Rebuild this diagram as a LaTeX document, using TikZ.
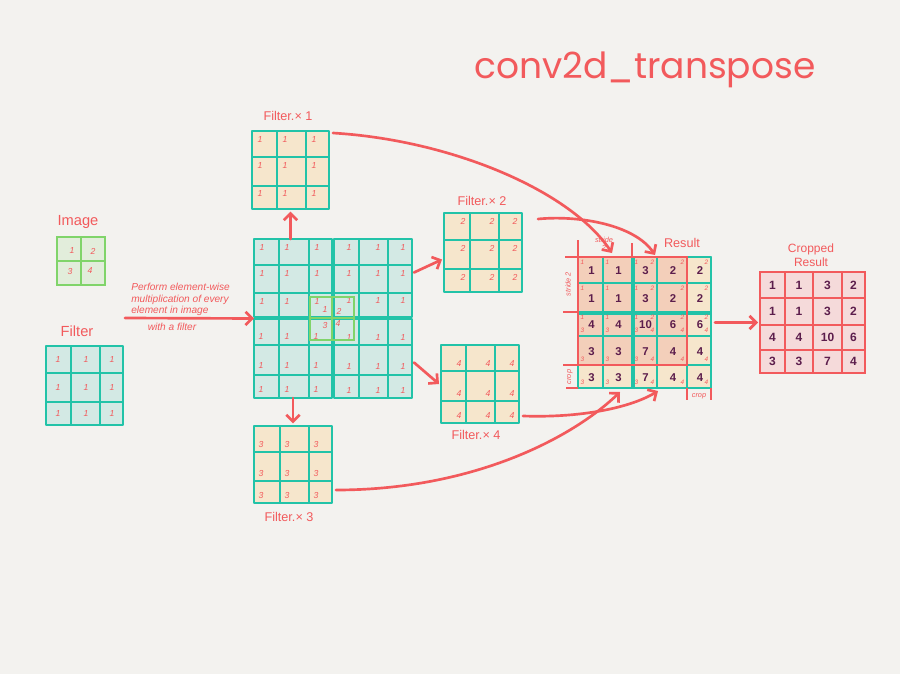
\documentclass[tikz,border=0pt]{standalone}
\usepackage{fontspec}
\setmainfont{Liberation Sans}
\newfontfamily\titlefont{Poppins}
\usetikzlibrary{fit,calc,arrows.meta}
\definecolor{bgc}{HTML}{F3F2EF}
\definecolor{redc}{HTML}{F25A5C}
\definecolor{tealc}{HTML}{22C3A8}
\definecolor{tealfill}{HTML}{D3E9E4}
\definecolor{beige}{HTML}{F6E6CC}
\definecolor{salmon}{HTML}{F3CFBA}
\definecolor{pinkc}{HTML}{F5DADA}
\definecolor{greenc}{HTML}{80D46A}
\definecolor{greenfill}{HTML}{E2EDDB}
\definecolor{purp}{HTML}{5C1D4C}
\tikzset{
 gline/.style={draw=tealc, line width=1.9pt, line join=round},
 sn/.style={text=redc, font=\fontsize{6.5}{7}\selectfont\itshape, inner sep=0},
 rsn/.style={text=redc, font=\fontsize{4.8}{5}\selectfont\itshape, inner sep=0},
 bn/.style={text=purp, font=\fontsize{9}{10}\selectfont\bfseries, inner sep=0},
 lbl/.style={text=redc, font=\fontsize{9.5}{10.5}\selectfont, inner sep=0},
 biglbl/.style={text=redc, font=\fontsize{11}{12}\selectfont, inner sep=0},
 tiny/.style={text=redc, font=\fontsize{5.5}{6}\selectfont\itshape, inner sep=0},
 arr/.style={draw=redc, line width=2pt, line cap=round, -{Straight Barb[length=5pt,width=10pt,line width=2pt]}},
 redln/.style={draw=redc, line width=1.3pt},
 box/.style={inner sep=0, outer sep=0},
}
\newcommand\gridthree[9]{%
 \fill[#9] (#1,#5) rectangle (#4,#8);
 \draw[gline] (#2,#5) -- (#2,#8) (#3,#5) -- (#3,#8) (#1,#6) -- (#4,#6) (#1,#7) -- (#4,#7) (#1,#5) rectangle (#4,#8);
}
\begin{document}
\begin{tikzpicture}[x=0.75pt,y=-0.75pt]
\useasboundingbox (0,0) rectangle (900,674);
\fill[bgc] (0,0) rectangle (900,674);

% title
\node[text=redc, font=\titlefont\fontsize{27}{30}\selectfont, inner sep=0] (title) at (645,70) {conv2d\_transpose};

% Image
\node[biglbl] (imglbl) at (78,222) {Image};
\fill[greenfill] (57,237) rectangle (105,285);
\draw[draw=greenc, line width=1.6pt] (57,237) rectangle (105,285) (81,237)--(81,285) (57,261)--(105,261);
\node[box, fit={(57,237)(105,285)}] (img) {};
\node[sn] (i1) at (72,251) {1};
\node[sn] (i2) at (93,251) {2};
\node[sn] (i3) at (70,272) {3};
\node[sn] (i4) at (90,271) {4};

% Filter
\node[biglbl] (filtlbl) at (77,331) {Filter};
\gridthree{46}{71}{100}{123}{346}{373}{402}{425}{tealfill}
\node[box, fit={(46,346)(123,425)}] (filt) {};
\foreach \x [count=\i] in {58,86,112}
 \foreach \y [count=\j] in {360,388,414}
  \node[sn] (fn\i\j) at (\x,\y) {1};

% text of the left arrow
\node[text=redc, font=\fontsize{7.6}{8.6}\selectfont\itshape, inner sep=0, align=left, anchor=north west] (ptxt) at (131,283) {Perform element-wise\\multiplication of every\\element in image};
\node[text=redc, font=\fontsize{7.6}{8.6}\selectfont\itshape, inner sep=0] (wtxt) at (172,327) {with a filter};

% center grid
\gridthree{254}{279}{309}{332}{239}{265}{293}{317}{tealfill}
\gridthree{334}{359}{388}{412}{239}{265}{293}{317}{tealfill}
\gridthree{254}{279}{309}{332}{319}{345}{375}{398}{tealfill}
\gridthree{334}{359}{388}{412}{319}{345}{375}{398}{tealfill}
\node[box, fit={(254,239)(412,398)}] (cg) {};
\foreach \x [count=\i] in {262,287,317}
 \foreach \y [count=\j] in {248,274,302}
  \node[sn] (ctl\i\j) at (\x,\y) {1};
\foreach \x [count=\i] in {349,378,403}
 \foreach \y [count=\j] in {248,274,301}
  \node[sn] (ctr\i\j) at (\x,\y) {1};
\foreach \x [count=\i] in {261,287,316}
 \foreach \y [count=\j] in {337,366,390}
  \node[sn] (cbl\i\j) at (\x,\y) {1};
\foreach \x [count=\i] in {349,378,403}
 \foreach \y [count=\j] in {338,367,391}
  \node[sn] (cbr\i\j) at (\x,\y) {1};
\draw[draw=greenc, line width=1.5pt] (310,297) rectangle (354,340) (332,297)--(332,340) (310,318)--(354,318);
\node[box, fit={(310,297)(354,340)}] (gov) {};
\node[sn] (g1) at (325,310) {1};
\node[sn] (g2) at (339,311) {2};
\node[sn] (g3) at (325,326) {3};
\node[sn] (g4) at (338,324) {4};

\coordinate (astart) at (125,318);
\draw[arr] (astart) -- (cg.west);

% Filter x1
\node[lbl] (f1lbl) at (288,116) {Filter.× 1};
\gridthree{252}{277}{306}{329}{131}{157}{186}{209}{beige}
\node[box, fit={(252,131)(329,209)}] (f1) {};
\foreach \x [count=\i] in {260,285,314}
 \foreach \y [count=\j] in {140,166,194}
  \node[sn] (a\i\j) at (\x,\y) {1};

% Filter x2
\node[lbl] (f2lbl) at (482,201) {Filter.× 2};
\gridthree{444}{470}{499}{522}{213}{240}{269}{292}{beige}
\node[box, fit={(444,213)(522,292)}] (f2) {};
\foreach \x [count=\i] in {463,492,515}
 \foreach \y [count=\j] in {221,248,277}
  \node[sn] (b\i\j) at (\x,\y) {2};

% Filter x4
\node[lbl] (f4lbl) at (476,435) {Filter.× 4};
\gridthree{441}{466}{495}{519}{345}{371}{401}{423}{beige}
\node[box, fit={(441,345)(519,423)}] (f4) {};
\foreach \x [count=\i] in {459,488,512}
 \foreach \y [count=\j] in {364,394,416}
  \node[sn] (d\i\j) at (\x,\y) {4};

% Filter x3
\node[lbl] (f3lbl) at (289,517) {Filter.× 3};
\gridthree{254}{280}{309}{332}{426}{452}{481}{503}{beige}
\node[box, fit={(254,426)(332,503)}] (f3) {};
\foreach \x [count=\i] in {261,287,316}
 \foreach \y [count=\j] in {445,474,496}
  \node[sn] (e\i\j) at (\x,\y) {3};

% arrows from center grid
\draw[arr, shorten >=2pt] (f1.south |- cg.north) -- (f1.south);
\draw[arr, shorten >=2pt] (f3.north |- cg.south) -- (f3.north);
\draw[arr] ($(cg.east)+(2,-46)$) -- ($(f2.west)+(-2,7)$);
\draw[arr] ($(cg.east)+(2,44)$) -- ($(f4.west)+(-2,0)$);

% Result
\node[lbl] (reslbl) at (682,243) {Result};
\fill[beige] (578,257) rectangle (711,388);
\fill[salmon] (578,257) rectangle (687,365);
\draw[gline] (603,257)--(603,388) (632,257)--(632,388) (657,257)--(657,388) (687,257)--(687,388)
 (578,283)--(711,283) (578,312)--(711,312) (578,336)--(711,336) (578,365)--(711,365)
 (578,257) rectangle (711,388);
\draw[gline] (578,257) rectangle (657,336) (634,257) rectangle (711,336)
 (578,314) rectangle (657,388) (634,314) rectangle (711,388);
\node[box, fit={(578,257)(711,388)}] (res) {};
\draw[redln] (565,257) -- (687,257) -- (687,365) -- (563,365)
 (578,257) -- (578,365)
 (578,240) -- (578,257) (632,243) -- (632,257)
 (563,312) -- (578,312) (566,388) -- (578,388)
 (687,388) -- (687,400) (711,388) -- (711,400);
\node[tiny, align=center] (strtop) at (604,244) {stride\\2};
\node[tiny, rotate=90] (strleft) at (568,284) {stride 2};
\node[tiny, rotate=90] (cropleft) at (570,377) {crop};
\node[tiny] (cropright) at (699,396) {crop};

\foreach \row [count=\rr] in {{1,1,3,2,2},{1,1,3,2,2},{4,4,10,6,6},{3,3,7,4,4},{3,3,7,4,4}} {
 \foreach \v [count=\cc] in \row {
  \pgfmathsetmacro\xa{{578,603,632,657,687,711}[\cc-1]}
  \pgfmathsetmacro\xb{{578,603,632,657,687,711}[\cc]}
  \pgfmathsetmacro\ya{{257,283,312,336,365,388}[\rr-1]}
  \pgfmathsetmacro\yb{{257,283,312,336,365,388}[\rr]}
  \node[bn, font=\fontsize{8.5}{9}\selectfont\bfseries] (r\rr-\cc) at ({(\xa+\xb)/2+1},{(\ya+\yb)/2+1}) {\v};
  \ifnum\rr<4 \ifnum\cc<4 \node[rsn] (p\rr-\cc) at (\xa+4.5,\ya+5.5) {1};\fi\fi
  \ifnum\rr<4 \ifnum\cc>2 \node[rsn] (q\rr-\cc) at (\xb-4.5,\ya+5.5) {2};\fi\fi
  \ifnum\rr>2 \ifnum\cc<4 \node[rsn] (s\rr-\cc) at (\xa+4.5,\yb-5.5) {3};\fi\fi
  \ifnum\rr>2 \ifnum\cc>2 \node[rsn] (t\rr-\cc) at (\xb-4.5,\yb-5.5) {4};\fi\fi
 }
}

% arrows into result
\draw[arr] ($(f1.north east)+(4,2)$) .. controls (450,140) and (570,190) .. ($(res.north west)+(34,-4)$);
\draw[arr] ($(f2.north east)+(16,6)$) .. controls (580,215) and (635,225) .. ($(res.north west)+(77,-2)$);
\draw[arr] ($(f4.south east)+(4,-7)$) .. controls (580,418) and (630,408) .. ($(res.south west)+(80,3)$);
\draw[arr] ($(f3.south east)+(4,-13)$) .. controls (470,490) and (570,440) .. ($(res.south west)+(42,4)$);

% Cropped result
\node[lbl, align=center, font=\fontsize{9}{10.5}\selectfont] (crlbl) at (811,255) {Cropped\\Result};
\fill[pinkc] (760,272) rectangle (865,373);
\draw[draw=redc, line width=1.8pt] (785,272)--(785,373) (813,272)--(813,373) (842,272)--(842,373)
 (760,298)--(865,298) (760,325)--(865,325) (760,350)--(865,350) (760,272) rectangle (865,373);
\node[box, fit={(760,272)(865,373)}] (cr) {};
\foreach \row [count=\rr] in {{1,1,3,2},{1,1,3,2},{4,4,10,6},{3,3,7,4}} {
 \foreach \v [count=\cc] in \row {
  \pgfmathsetmacro\xa{{760,785,813,842,865}[\cc-1]}
  \pgfmathsetmacro\xb{{760,785,813,842,865}[\cc]}
  \pgfmathsetmacro\ya{{272,298,325,350,373}[\rr-1]}
  \pgfmathsetmacro\yb{{272,298,325,350,373}[\rr]}
  \node[bn] (c\rr-\cc) at ({(\xa+\xb)/2},{(\ya+\yb)/2}) {\v};
 }
}
\draw[arr] ($(res.east)+(4,0)$) -- ($(cr.west)+(-2,0)$);
\end{tikzpicture}
\end{document}
